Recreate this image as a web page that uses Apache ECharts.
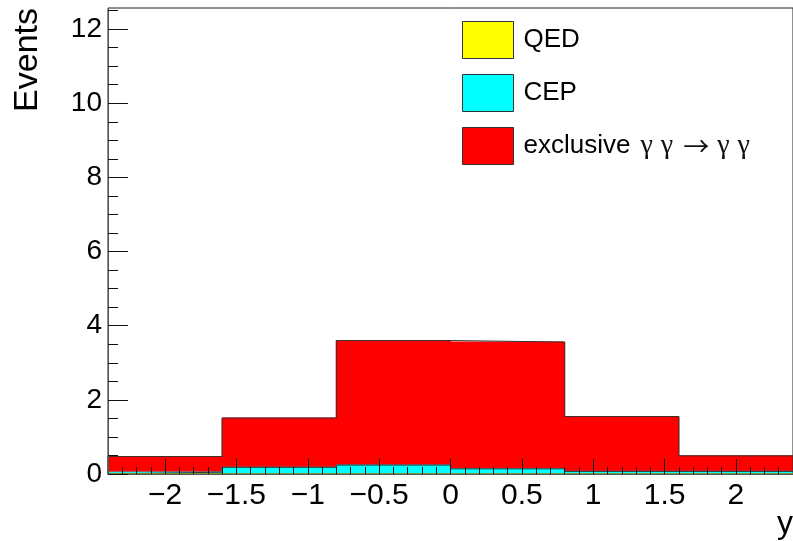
<!DOCTYPE html>
<html>
<head>
<meta charset="utf-8">
<script src="https://cdn.jsdelivr.net/npm/echarts@6/dist/echarts.min.js"></script>
<style>
  html, body { margin: 0; padding: 0; background: #fff; }
  #chart { width: 793px; height: 541px; }
</style>
</head>
<body>
<div id="chart"></div>
<script>
// Rapidity distribution, stacked histograms (bottom to top: QED, CEP, exclusive)
const binEdges = [-2.4, -1.6, -0.8, 0, 0.8, 1.6, 2.4];
const qedCounts = [0, 0, 0, 0, 0, 0];
const cepCounts = [0.05, 0.18, 0.24, 0.14, 0.07, 0.07];
const exclCounts = [0.42, 1.33, 3.36, 3.42, 1.48, 0.42];

const xMajorTicks = [-2, -1.5, -1, -0.5, 0, 0.5, 1, 1.5, 2];
const yMajorTicks = [0, 2, 4, 6, 8, 10, 12];
const xRange = [-2.4, 2.4];
const yRange = [0, 12.57];

const FONT = 'Liberation Sans, Arial, Helvetica, sans-serif';
const AXIS_COLOR = '#555';
const EDGE_COLOR = '#333';
const TICK_COLOR = '#111';

// minor tick positions: every 0.1 on x, every 0.5 on y, skipping major ticks
const xMinorTicks = [];
for (let i = -23; i <= 23; i++) {
  if (i % 5 !== 0) xMinorTicks.push(+(i / 10).toFixed(1));
}
const yMinorTicks = [];
for (let i = 1; i <= 25; i++) {
  if (i % 4 !== 0) yMinorTicks.push(i / 2);
}

const layers = [
  { name: 'QED', color: '#ffff00', counts: qedCounts },
  { name: 'CEP', color: '#00ffff', counts: cepCounts },
  { name: 'exclusive \u03b3 \u03b3 \u2192 \u03b3 \u03b3', color: '#ff0000', counts: exclCounts }
];

// cumulative stack
let base = qedCounts.map(() => 0);
const series = [];
layers.forEach((layer, li) => {
  const top = base.map((b, i) => b + layer.counts[i]);
  const rects = top.map((t, i) => [binEdges[i], binEdges[i + 1], base[i], t]);
  const z = 2 + (layers.length - li) * 2;
  series.push({
    type: 'custom',
    name: layer.name,
    xAxisIndex: 0, yAxisIndex: 0,
    itemStyle: { color: layer.color },
    clip: true,
    z: z,
    silent: true,
    encode: { x: [0, 1], y: [2, 3] },
    data: rects,
    renderItem: function (params, api) {
      const p0 = api.coord([api.value(0), api.value(3)]);
      const p1 = api.coord([api.value(1), api.value(2)]);
      return {
        type: 'rect',
        shape: { x: p0[0], y: p0[1], width: p1[0] - p0[0], height: p1[1] - p0[1] },
        // same-colour stroke closes the hairline seams between neighbouring bins
        style: { fill: layer.color, stroke: layer.color, lineWidth: 1 }
      };
    }
  });
  // step contour of the stacked sum
  const outline = [[binEdges[0], 0]];
  top.forEach((t, i) => {
    outline.push([binEdges[i], t]);
    outline.push([binEdges[i + 1], t]);
  });
  outline.push([binEdges[binEdges.length - 1], 0]);
  series.push({
    type: 'line',
    name: layer.name + ' outline',
    xAxisIndex: 0, yAxisIndex: 0,
    data: outline,
    showSymbol: false,
    silent: true,
    z: z + 1,
    lineStyle: { color: EDGE_COLOR, width: 1 },
    clip: true
  });
  base = top;
});

function axisCommon(range) {
  return { type: 'value', min: range[0], max: range[1], z: 50, splitLine: { show: false } };
}

const chart = echarts.init(document.getElementById('chart'), null, { renderer: 'canvas' });
chart.setOption({
  animation: false,
  backgroundColor: '#fff',
  textStyle: { fontFamily: FONT },
  grid: {
    left: 108, top: 8, right: -1, bottom: 67,
    show: true, borderColor: '#222', borderWidth: 1, backgroundColor: 'transparent'
  },
  legend: {
    orient: 'vertical',
    left: 462, top: 21, padding: 0,
    itemWidth: 51, itemHeight: 37, itemGap: 15,
    icon: 'rect',
    selectedMode: false,
    itemStyle: { borderColor: EDGE_COLOR, borderWidth: 1 },
    formatter: name => name === layers[2].name
      ? 'exclusive{g1|\u03b3}{g|\u03b3}{a|\u2192}{g|\u03b3}{g|\u03b3}'
      : name,
    textStyle: {
      fontSize: 26, color: '#000', fontFamily: FONT, padding: [0, 0, 0, 5],
      rich: {
        g1: { fontSize: 28, fontFamily: 'Liberation Serif, serif', color: '#111', padding: [0, 0, 0, 10] },
        g: { fontSize: 28, fontFamily: 'Liberation Serif, serif', color: '#111', padding: [0, 0, 0, 8] },
        a: { fontSize: 26, fontFamily: 'Noto Sans CJK JP, DejaVu Sans, sans-serif', color: '#111', padding: [0, 0, 0, 10] }
      }
    },
    data: layers.map(l => l.name)
  },
  xAxis: [
    Object.assign(axisCommon(xRange), {
      axisLine: { show: true, onZero: false, lineStyle: { color: AXIS_COLOR, width: 1 } },
      axisTick: { show: true, inside: true, length: 15, customValues: xMajorTicks, lineStyle: { color: TICK_COLOR, width: 1 } },
      axisLabel: {
        show: true, customValues: xMajorTicks, margin: 7,
        fontSize: 30, color: '#000', fontFamily: FONT,
        formatter: v => (v < 0 ? '\u2212' + String(-v) : String(v))
      }
    }),
    Object.assign(axisCommon(xRange), {
      position: 'bottom', offset: 0,
      axisLine: { show: false, onZero: false },
      axisTick: { show: true, inside: true, length: 7, customValues: xMinorTicks, lineStyle: { color: TICK_COLOR, width: 1 } },
      axisLabel: { show: false }
    })
  ],
  yAxis: [
    Object.assign(axisCommon(yRange), {
      position: 'left',
      axisLine: { show: true, onZero: false, lineStyle: { color: AXIS_COLOR, width: 1 } },
      axisTick: { show: true, inside: true, length: 20, customValues: yMajorTicks, lineStyle: { color: TICK_COLOR, width: 1 } },
      axisLabel: {
        show: true, customValues: yMajorTicks, margin: 6,
        fontSize: 28, color: '#000', fontFamily: FONT
      }
    }),
    Object.assign(axisCommon(yRange), {
      position: 'left', offset: 0,
      axisLine: { show: false, onZero: false },
      axisTick: { show: true, inside: true, length: 10, customValues: yMinorTicks, lineStyle: { color: TICK_COLOR, width: 1 } },
      axisLabel: { show: false }
    })
  ],
  graphic: [
    {
      type: 'text', x: 28, y: 8, rotation: Math.PI / 2,
      style: { text: 'Events', fontSize: 34, fontFamily: FONT, fill: '#000', align: 'right', verticalAlign: 'middle' }
    },
    {
      type: 'text', x: 793, y: 540,
      style: { text: 'y', fontSize: 32, fontFamily: FONT, fill: '#000', align: 'right', verticalAlign: 'bottom' }
    }
  ],
  series: series
});
</script>
</body>
</html>
